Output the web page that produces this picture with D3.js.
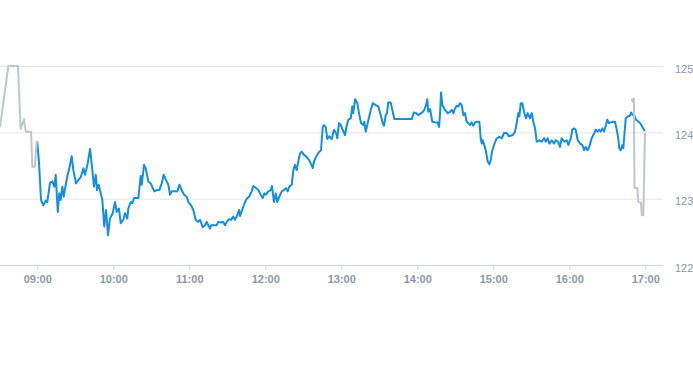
<!DOCTYPE html>
<html>
<head>
<meta charset="utf-8">
<script src="https://cdn.jsdelivr.net/npm/d3@7"></script>
<style>
    body { margin: 0; background: #fff; }
    svg { display: block; font-family: "Liberation Sans", Arial, sans-serif; }
</style>
</head>
<body>
<svg id="chart" width="693" height="365"></svg>
<script>
// times are minutes after midnight, prices in dollars
let preTimes = [511, 517.6, 525.2, 527.3, 530, 531.3, 535.5, 536.5, 538.4, 540, 540.4];
let prePrices = [124.08, 125.00, 125.00, 124.05, 124.20, 124.01, 124.01, 123.48, 123.48, 123.86, 123.86];

let mainTimes = [540.4, 541.8, 543.4, 545.2, 547.1, 548.3, 550.5, 552.3, 553.9, 555.0,
    556.6, 557.8, 558.9, 560.2, 561.3, 562.9, 564.1, 566.0, 567.6, 568.9,
    571.0, 572.8, 574.9, 576.8, 578.1, 580.2, 582.1, 583.9, 585.2, 586.6,
    587.6, 588.9, 589.9, 591.8, 593.3, 594.7, 596.3, 597.8, 600.0, 601.8,
    603.1, 604.9, 606.3, 608.3, 609.7, 611.5, 612.3, 614.2, 615.4, 616.8,
    620.2, 622.1, 622.9, 624.7, 626.0, 628.1, 630.0, 632.8, 634.7, 636.8,
    638.7, 640.2, 642.1, 643.9, 645.2, 646.6, 651.0, 652.6, 654.4, 656.3,
    658.4, 659.7, 661.8, 663.6, 665.5, 667.1, 668.9, 671.0, 672.8, 674.2,
    675.4, 676.8, 677.6, 682.1, 683.3, 685.5, 687.3, 688.6, 690.0, 691.8,
    693.4, 695.2, 696.5, 698.3, 699.7, 700.5, 702.4, 704.4, 706.2, 707.8,
    709.7, 711.0, 713.1, 714.9, 716.8, 718.4, 719.7, 721.0, 722.8, 724.7,
    725.7, 727.3, 728.7, 729.9, 731.5, 733.4, 735.2, 736.6, 738.1, 739.4,
    741.3, 742.6, 743.9, 745.2, 746.5, 747.8, 749.2, 751.0, 753.1, 755.7,
    757.9, 758.9, 760.5, 762.3, 764.4, 765.8, 766.8, 768.1, 769.4, 771.0,
    772.9, 774.7, 776.3, 777.3, 778.6, 780.0, 781.5, 783.4, 784.5, 786.0,
    787.9, 789.1, 789.9, 791.3, 793.1, 794.4, 796.0, 797.8, 798.6, 799.7,
    801.3, 803.1, 805.2, 807.6, 809.7, 811.5, 813.1, 814.2, 815.5, 816.5,
    817.5, 819.4, 820.7, 822.3, 825.4, 836.0, 837.8, 839.4, 841.2, 844.4,
    846.0, 847.3, 848.3, 849.1, 850.5, 852.3, 854.4, 856.5, 857.6, 858.4,
    859.2, 860.2, 862.3, 864.4, 866.3, 867.6, 868.9, 870.2, 871.5, 872.8,
    874.2, 875.5, 876.8, 878.1, 879.4, 880.7, 882.1, 883.4, 884.7, 886.0,
    887.3, 889.4, 890.5, 891.3, 892.1, 893.3, 894.7, 896.0, 897.3, 898.4,
    899.4, 901.0, 903.1, 905.2, 907.1, 908.9, 911.0, 912.8, 915.8, 917.6,
    918.9, 920.2, 921.0, 922.1, 923.3, 924.7, 926.3, 927.6, 929.4, 930.8,
    932.0, 933.4, 934.7, 936.8, 938.6, 940.5, 941.8, 943.4, 944.7, 946.6,
    948.4, 949.9, 951.8, 953.1, 954.4, 956.5, 958.4, 959.7, 961.6, 962.8,
    964.4, 965.5, 967.1, 968.9, 970.7, 972.1, 973.4, 974.7, 976.2, 978.1,
    980.2, 981.3, 982.9, 983.9, 985.2, 986.5, 987.8, 989.4, 990.4, 991.8,
    993.4, 995.2, 996.5, 997.9, 999.1, 999.9, 1001.0, 1002.3, 1003.1, 1003.9,
    1005.0, 1006.5, 1008.4, 1009.2, 1010.5, 1011.8, 1013.1, 1016.3, 1020.0];
let mainPrices = [123.86, 123.54, 122.98, 122.90, 122.97, 122.95, 123.24, 123.26, 123.18, 123.36,
    122.80, 123.08, 122.98, 123.18, 123.03, 123.21, 123.33, 123.48, 123.64, 123.43,
    123.23, 123.28, 123.33, 123.46, 123.36, 123.53, 123.75, 123.43, 123.18, 123.36,
    123.13, 123.21, 123.13, 122.98, 122.58, 122.83, 122.45, 122.70, 122.78, 122.95,
    122.80, 122.85, 122.63, 122.68, 122.78, 122.70, 122.85, 122.95, 122.93, 123.01,
    123.01, 123.34, 123.21, 123.51, 123.46, 123.26, 123.23, 123.11, 123.13, 123.13,
    123.23, 123.36, 123.28, 123.21, 123.06, 123.11, 123.11, 123.21, 123.13, 123.06,
    123.03, 122.95, 122.90, 122.83, 122.68, 122.65, 122.68, 122.57, 122.60, 122.65,
    122.60, 122.55, 122.60, 122.60, 122.65, 122.64, 122.65, 122.60, 122.65, 122.69,
    122.68, 122.73, 122.68, 122.75, 122.83, 122.74, 122.84, 122.95, 123.01, 123.03,
    123.11, 123.19, 123.16, 123.13, 123.06, 123.01, 123.08, 123.06, 123.11, 123.13,
    123.19, 122.95, 123.08, 122.95, 123.03, 123.11, 123.13, 123.16, 123.11, 123.18,
    123.21, 123.43, 123.51, 123.43, 123.56, 123.68, 123.71, 123.66, 123.63, 123.56,
    123.46, 123.56, 123.63, 123.69, 123.73, 124.08, 124.11, 124.08, 123.90, 123.94,
    123.90, 124.04, 123.99, 123.91, 124.14, 124.11, 124.04, 123.96, 124.08, 124.19,
    124.21, 124.39, 124.29, 124.50, 124.44, 124.29, 124.14, 124.11, 124.16, 124.01,
    124.14, 124.29, 124.44, 124.41, 124.39, 124.26, 124.14, 124.10, 124.26, 124.29,
    124.45, 124.45, 124.34, 124.20, 124.20, 124.20, 124.30, 124.29, 124.26, 124.30,
    124.34, 124.41, 124.50, 124.31, 124.35, 124.16, 124.15, 124.15, 124.08, 124.29,
    124.60, 124.41, 124.34, 124.29, 124.31, 124.34, 124.29, 124.36, 124.40, 124.39,
    124.44, 124.41, 124.26, 124.29, 124.16, 124.14, 124.11, 124.15, 124.10, 124.15,
    124.16, 124.16, 123.91, 123.83, 123.88, 123.81, 123.71, 123.56, 123.52, 123.58,
    123.71, 123.81, 123.91, 123.93, 123.91, 123.99, 123.99, 123.94, 123.96, 124.01,
    124.14, 124.29, 124.24, 124.44, 124.44, 124.31, 124.21, 124.29, 124.21, 124.29,
    124.16, 124.06, 123.86, 123.88, 123.86, 123.91, 123.86, 123.91, 123.83, 123.88,
    123.83, 123.88, 123.85, 123.78, 123.91, 123.86, 123.88, 123.81, 123.91, 124.04,
    124.06, 124.04, 123.88, 123.83, 123.81, 123.73, 123.78, 123.73, 123.78, 123.91,
    123.99, 124.04, 124.01, 124.04, 124.01, 124.06, 124.01, 124.11, 124.19, 124.14,
    124.15, 124.16, 124.16, 124.04, 123.91, 123.76, 123.73, 123.81, 123.76, 123.96,
    124.21, 124.24, 124.25, 124.30, 124.26, 124.25, 124.19, 124.14, 124.02];

let postTimes = [1009.7, 1010.5, 1011.4, 1011.9, 1014.1, 1014.9, 1017.0, 1017.6, 1018.9, 1020.2];
let postPrices = [124.51, 124.46, 124.51, 123.16, 123.16, 122.95, 122.94, 122.75, 122.75, 123.99];

let xTicks = [540, 600, 660, 720, 780, 840, 900, 960, 1020];
let yTicks = [122, 123, 124, 125];

let svg = d3.select("#chart");
let plotRight = 663;
let plotTop = 66;
let plotBottom = 265;

let xScale = d3.scaleLinear()
    .domain([511, 1034.4])
    .range([0, plotRight]);

let yScale = d3.scaleLinear()
    .domain([122, 125])
    .range([plotBottom, plotTop]);

// horizontal grid lines
svg.append("g")
    .selectAll("line")
    .data(yTicks.filter(d => d > 122))
    .enter()
    .append("line")
    .attr("x1", 0)
    .attr("x2", plotRight)
    .attr("y1", d => yScale(d) + 0.5)
    .attr("y2", d => yScale(d) + 0.5)
    .attr("stroke", "#e6e6e6")
    .attr("stroke-width", 1);

let fmt = m => d3.format("02")(Math.floor(m / 60)) + ":" + d3.format("02")(m % 60);

let x_axis = d3.axisBottom(xScale)
    .tickValues(xTicks)
    .tickFormat(fmt)
    .tickSize(5)
    .tickSizeOuter(0)
    .tickPadding(5);

let xg = svg.append("g")
    .attr("transform", `translate(0.5, ${plotBottom + 0.5})`)
    .call(x_axis);
xg.select(".domain").attr("stroke", "#ccd6eb").attr("d", `M-0.5,0H${plotRight}`);
xg.selectAll(".tick line").attr("stroke", "#ccd6eb");
xg.selectAll("text")
    .attr("fill", "#8d97a7")
    .style("font-size", "11px")
    .style("font-weight", "bold");

let y_axis = d3.axisRight(yScale)
    .tickValues(yTicks)
    .tickFormat(d3.format("d"))
    .tickSize(0)
    .tickPadding(12);

let yg = svg.append("g")
    .attr("transform", `translate(${plotRight}, 0)`)
    .call(y_axis);
yg.select(".domain").remove();
yg.selectAll("text")
    .attr("dy", "0.57em")
    .attr("fill", "#8d97a7")
    .style("font-size", "11px");

let line = d3.line()
    .x(d => xScale(d[0]))
    .y(d => yScale(d[1]));

let mainData = d3.zip(mainTimes, mainPrices);
let preData = d3.zip(preTimes, prePrices);
let postData = d3.zip(postTimes, postPrices);

svg.append("path")
    .datum(mainData)
    .attr("d", line)
    .attr("fill", "none")
    .attr("stroke", "#138fe2")
    .attr("stroke-width", 2)
    .attr("stroke-linejoin", "round");

[preData, postData].forEach(data => {
    svg.append("path")
        .datum(data)
        .attr("d", line)
        .attr("fill", "none")
        .attr("stroke", "#bcc7d1")
        .attr("stroke-width", 2)
        .attr("stroke-linejoin", "round");
});
</script>
</body>
</html>
